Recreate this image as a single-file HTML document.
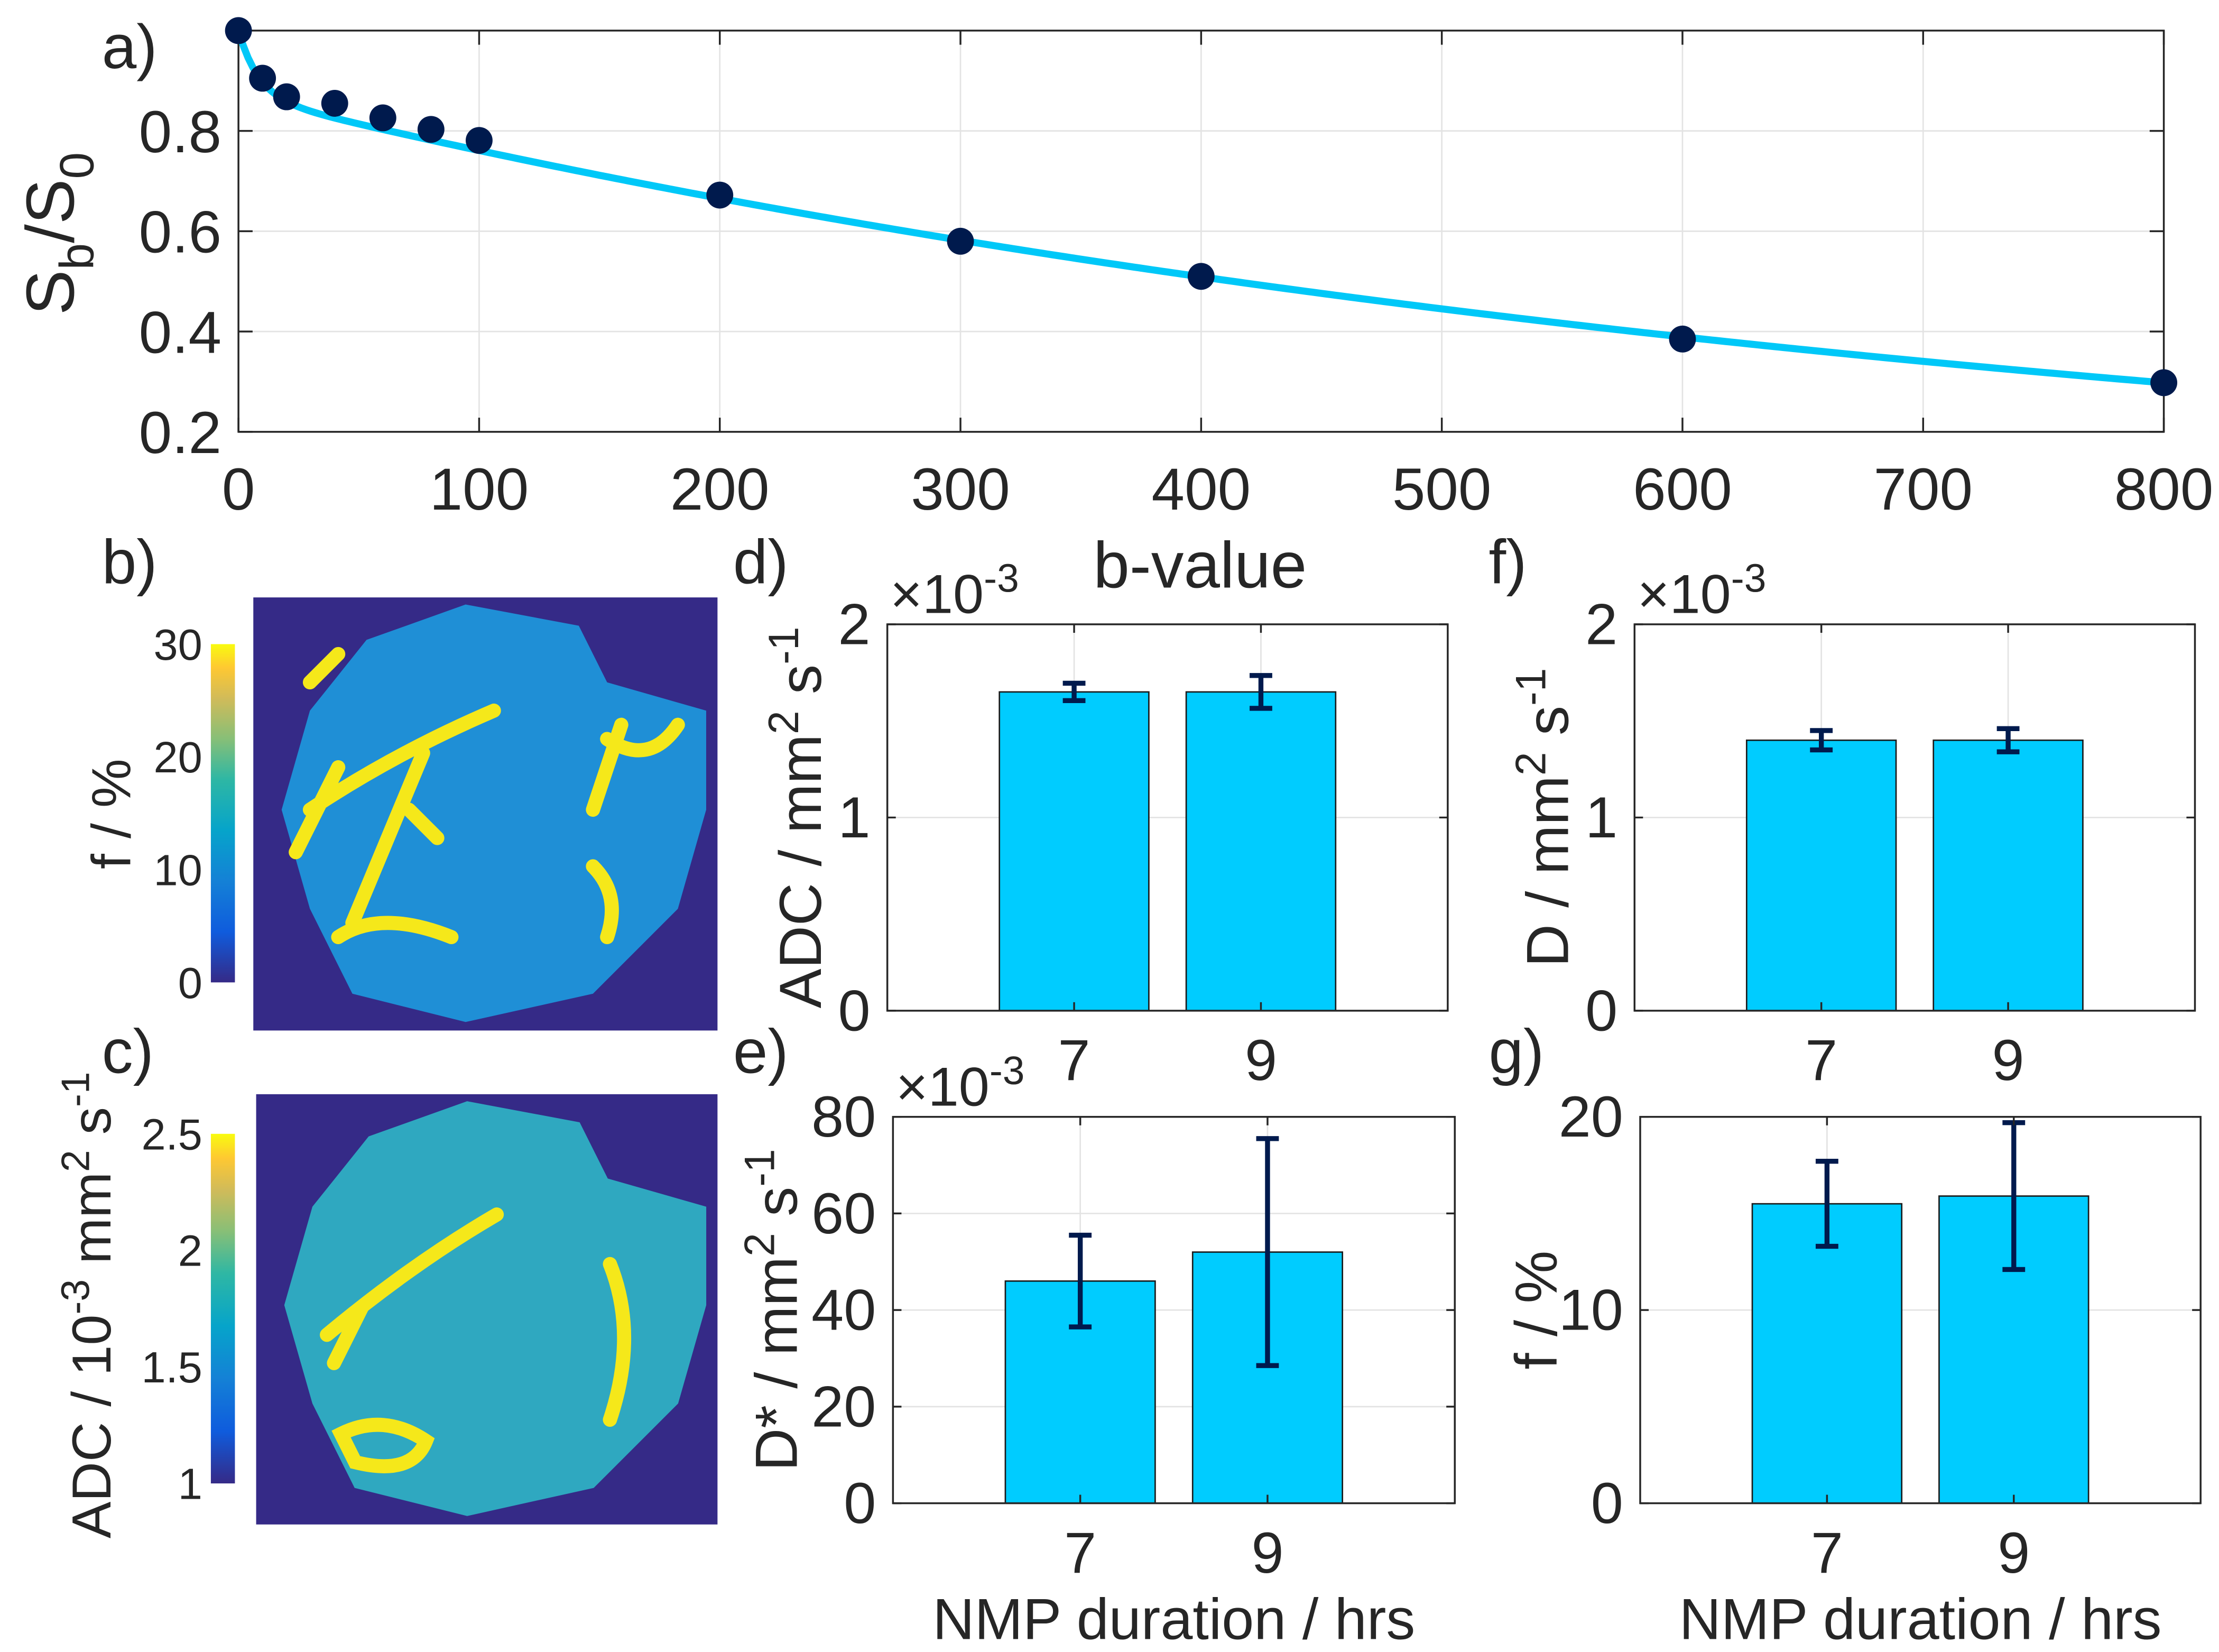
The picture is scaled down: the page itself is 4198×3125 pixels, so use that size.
<!DOCTYPE html>
<html><head><meta charset="utf-8">
<style>
html,body{margin:0;padding:0;background:#fff;}
svg{display:block;}
text{font-family:"Liberation Sans",sans-serif;fill:#262626;}
</style></head>
<body>
<svg id="fig" width="4198" height="3125" viewBox="0 0 1568 1167" xmlns="http://www.w3.org/2000/svg">
<defs>
<linearGradient id="parula" x1="0" y1="1" x2="0" y2="0">
<stop offset="0" stop-color="#352a87"/><stop offset="0.15" stop-color="#0f5cdd"/><stop offset="0.3" stop-color="#1481d6"/><stop offset="0.45" stop-color="#06a4ca"/><stop offset="0.6" stop-color="#2eb7a4"/><stop offset="0.72" stop-color="#87bf77"/><stop offset="0.84" stop-color="#d1bb59"/><stop offset="0.93" stop-color="#fec832"/><stop offset="1" stop-color="#f9fb0e"/>
</linearGradient>
</defs>
<g id="root"></g>
</svg>
<script>
// ---- Panel a data ----
const bValues = [0,10,20,40,60,80,100,200,300,400,600,800];
const signalRatio = [1.0,0.905,0.868,0.855,0.826,0.803,0.781,0.672,0.58,0.51,0.385,0.298];
const fitF = [0.13];
const fitDstar = [0.12];
const fitD = [0.00134];
const aXTicks = [0,100,200,300,400,500,600,700,800];
const aYTicks = [0.2,0.4,0.6,0.8];
// ---- Bar panels data ----
const durations = [7,9];
const adcValues = [1.65,1.65];
const adcErr = [0.045,0.085];
const dValues = [1.40,1.40];
const dErr = [0.05,0.06];
const dstarValues = [46,52];
const dstarErr = [9.5,23.5];
const fValues = [15.5,15.9];
const fErr = [2.2,3.8];
const ticks2 = [0,1,2];
const ticks80 = [0,20,40,60,80];
const ticks20 = [0,10,20];
const cbFTicks = [0,10,20,30];
const cbAdcTicks = [1,1.5,2,2.5];

const NS='http://www.w3.org/2000/svg';
const root=document.getElementById('root');
function el(tag,attrs,parent,txt){const e=document.createElementNS(NS,tag);for(const k in attrs)e.setAttribute(k,attrs[k]);if(txt!==undefined)e.textContent=txt;(parent||root).appendChild(e);return e;}

// ---- Panel a ----
(function(){
const L=168.5,R=1529,T=21.5,B=305;
const xs=v=>L+(v-0)/800*(R-L);
const ys=v=>B-(v-0.2)/0.8*(B-T);
const g=el('g',{});


aXTicks.forEach(t=>{const l=el('line',{x1:xs(t),x2:xs(t),y1:T,y2:B,stroke:'#e3e3e3','stroke-width':1},g);});
aYTicks.forEach(t=>{const l=el('line',{x1:L,x2:R,y1:ys(t),y2:ys(t),stroke:'#e3e3e3','stroke-width':1},g);});
const box=el('rect',{x:L,y:T,width:R-L,height:B-T,fill:'none',stroke:'#262626','stroke-width':1.3},g);

aXTicks.forEach(t=>{el('line',{x1:xs(t),x2:xs(t),y1:B,y2:B-10,stroke:'#262626','stroke-width':1.3},g);el('line',{x1:xs(t),x2:xs(t),y1:T,y2:T+10,stroke:'#262626','stroke-width':1.3},g);
const tx=el('text',{x:xs(t),y:B+55,'font-size':42,'text-anchor':'middle'},g,String(t));});
aYTicks.forEach(t=>{el('line',{x1:L,x2:L+10,y1:ys(t),y2:ys(t),stroke:'#262626','stroke-width':1.3},g);el('line',{x1:R,x2:R-10,y1:ys(t),y2:ys(t),stroke:'#262626','stroke-width':1.3},g);
const tx=el('text',{x:L-12,y:ys(t)+15,'font-size':42,'text-anchor':'end'},g,t.toFixed(1));});
let d='';
for(let b=0;b<=800;b+=2){const v=fitF[0]*Math.exp(-b*fitDstar[0])+(1-fitF[0])*Math.exp(-b*fitD[0]);d+=(b?'L':'M')+xs(b).toFixed(2)+','+ys(v).toFixed(2);}
const p=el('path',{d:d,fill:'none',stroke:'#00c8f8','stroke-width':5},g);

bValues.forEach((b,i)=>{const c=el('circle',{cx:xs(b),cy:ys(signalRatio[i]),r:9.5,fill:'#001a4d'},g);});
const xl=el('text',{x:848,y:415,'font-size':46,'text-anchor':'middle'},g,'b-value');

const yl=el('text',{transform:'translate(52,165) rotate(-90)','font-size':48,'text-anchor':'middle'},g);

el('tspan',{},yl,'S');el('tspan',{'font-size':34,dy:14},yl,'b');el('tspan',{dy:-14},yl,'/S');el('tspan',{'font-size':34,dy:14},yl,'0');
})();

// ---- Bar panels ----
function barPanel(name,L,R,T,B,ymax,ticks,vals,errs,ylabelParts,ylx,multiplier,xlabel){
const g=el('g',{});


const xs=v=>L+(v-5)/6*(R-L);
const ys=v=>B-v/ymax*(B-T);
ticks.forEach(t=>{if(t>0&&t<ymax){const l=el('line',{x1:L,x2:R,y1:ys(t),y2:ys(t),stroke:'#e3e3e3','stroke-width':1},g);}});
durations.forEach(c=>{const l=el('line',{x1:xs(c),x2:xs(c),y1:T,y2:B,stroke:'#e3e3e3','stroke-width':1},g);});
durations.forEach((c,i)=>{
const r=el('rect',{x:xs(c-0.8),y:ys(vals[i]),width:xs(c+0.8)-xs(c-0.8),height:B-ys(vals[i]),fill:'#00ccff',stroke:'#1a1a1a','stroke-width':1},g);

const e=el('g',{},g);

const top=ys(vals[i]+errs[i]),bot=ys(vals[i]-errs[i]);
el('line',{x1:xs(c),x2:xs(c),y1:top,y2:bot,stroke:'#001a4d','stroke-width':3.5},e);
el('line',{x1:xs(c)-8,x2:xs(c)+8,y1:top,y2:top,stroke:'#001a4d','stroke-width':3.5},e);
el('line',{x1:xs(c)-8,x2:xs(c)+8,y1:bot,y2:bot,stroke:'#001a4d','stroke-width':3.5},e);
});
const box=el('rect',{x:L,y:T,width:R-L,height:B-T,fill:'none',stroke:'#262626','stroke-width':1.3},g);

ticks.forEach(t=>{el('line',{x1:L,x2:L+6,y1:ys(t),y2:ys(t),stroke:'#262626','stroke-width':1.3},g);el('line',{x1:R,x2:R-6,y1:ys(t),y2:ys(t),stroke:'#262626','stroke-width':1.3},g);
const tx=el('text',{x:L-12,y:ys(t)+14,'font-size':41,'text-anchor':'end'},g,String(t));});
durations.forEach(c=>{el('line',{x1:xs(c),x2:xs(c),y1:B,y2:B-6,stroke:'#262626','stroke-width':1.3},g);el('line',{x1:xs(c),x2:xs(c),y1:T,y2:T+6,stroke:'#262626','stroke-width':1.3},g);
const tx=el('text',{x:xs(c),y:B+49,'font-size':41,'text-anchor':'middle'},g,String(c));});
if(multiplier){const m=el('text',{x:L+2,y:T-8,'font-size':39},g);
el('tspan',{},m,'×10');el('tspan',{'font-size':28,dy:-15},m,'-3');}
const yl=el('text',{transform:'translate('+ylx+','+((T+B)/2)+') rotate(-90)','font-size':42,'text-anchor':'middle'},g);

ylabelParts.forEach(p=>{if(p[1]==='sup')el('tspan',{'font-size':30,dy:-16},yl,p[0]);else if(p[1]==='down')el('tspan',{dy:16},yl,p[0]);else el('tspan',{},yl,p[0]);});
if(xlabel){const xl=el('text',{x:(L+R)/2,y:1158,'font-size':41,'text-anchor':'middle'},g,'NMP duration / hrs');}
}
barPanel('panel-d-adc',627,1023,441,714,2,ticks2,adcValues,adcErr,[['ADC / mm'],['2','sup'],[' s','down'],['-1','sup']],580,true,false);
barPanel('panel-f-d',1155,1551,441,714,2,ticks2,dValues,dErr,[['D / mm'],['2','sup'],[' s','down'],['-1','sup']],1108,true,false);
barPanel('panel-e-dstar',631,1028,789,1062,80,ticks80,dstarValues,dstarErr,[['D* / mm'],['2','sup'],[' s','down'],['-1','sup']],563,true,true);
barPanel('panel-g-f',1159,1555,789,1062,20,ticks20,fValues,fErr,[['f / %']],1100,false,true);

// ---- Maps ----
function mapPanel(name,x,y,w,h,blobColor,streak){
const g=el('g',{});


el('rect',{x:x,y:y,width:w,height:h,fill:'#352a87'},g);
const s=w/328;
const pts=[[40,80],[80,30],[150,5],[230,20],[250,60],[320,80],[320,150],[300,220],[240,280],[150,300],[70,280],[40,220],[20,150]];
const blob=el('polygon',{points:pts.map(p=>(x+p[0]*s)+','+(y+p[1]*h/306)).join(' '),fill:blobColor},g);

streak.forEach(d=>{el('path',{d:d,transform:'translate('+x+','+y+')',fill:'none',stroke:'#f5e81a','stroke-width':10,'stroke-linecap':'round'},g);});
}
mapPanel('panel-b-f-map',179,422,328,306,'#1f8fd6',['M40,150 Q100,110 170,80','M60,120 L30,180','M120,110 L70,230','M250,100 Q280,120 300,90','M240,190 Q260,210 250,240','M60,240 Q90,220 140,240','M260,90 L240,150','M110,150 L130,170','M40,60 L60,40']);
mapPanel('panel-c-adc-map',181,773,326,304,'#2fa8c0',['M50,170 Q110,120 170,85','M75,150 L55,190','M60,240 Q90,225 120,245 Q110,270 70,260 Z','M250,120 Q270,170 250,230']);

function colorbar(name,x,y1,y2,ticks,min,max,fmt,label,lx,ly){
const g=el('g',{});


el('rect',{x:x,y:y1,width:17,height:y2-y1,fill:'url(#parula)'},g);
ticks.forEach(t=>{const yy=y2-(t-min)/(max-min)*(y2-y1);
const tx=el('text',{x:x-6,y:yy+11,'font-size':31,'text-anchor':'end'},g,fmt(t));});
const yl=el('text',{transform:'translate('+lx+','+ly+') rotate(-90)','font-size':39,'text-anchor':'middle'},g);

label.forEach(p=>{if(p[1]==='sup')el('tspan',{'font-size':28,dy:-15},yl,p[0]);else if(p[1]==='down')el('tspan',{dy:15},yl,p[0]);else el('tspan',{},yl,p[0]);});
}
colorbar('colorbar-f',149,455,694,cbFTicks,0,30,t=>String(t),[['f / %']],92,575);
colorbar('colorbar-adc',149,801,1048,cbAdcTicks,1,2.5,t=>String(t),[['ADC / 10'],['-3','sup'],[' mm','down'],['2','sup'],[' s','down'],['-1','sup']],78,922);

// ---- Panel letters ----
[['a)',72,48],['b)',72,412],['c)',72,758],['d)',518,412],['e)',518,758],['f)',1052,412],['g)',1052,758]].forEach(p=>{
const t=el('text',{x:p[1],y:p[2],'font-size':44},root,p[0]);


});
</script>
</body></html>
